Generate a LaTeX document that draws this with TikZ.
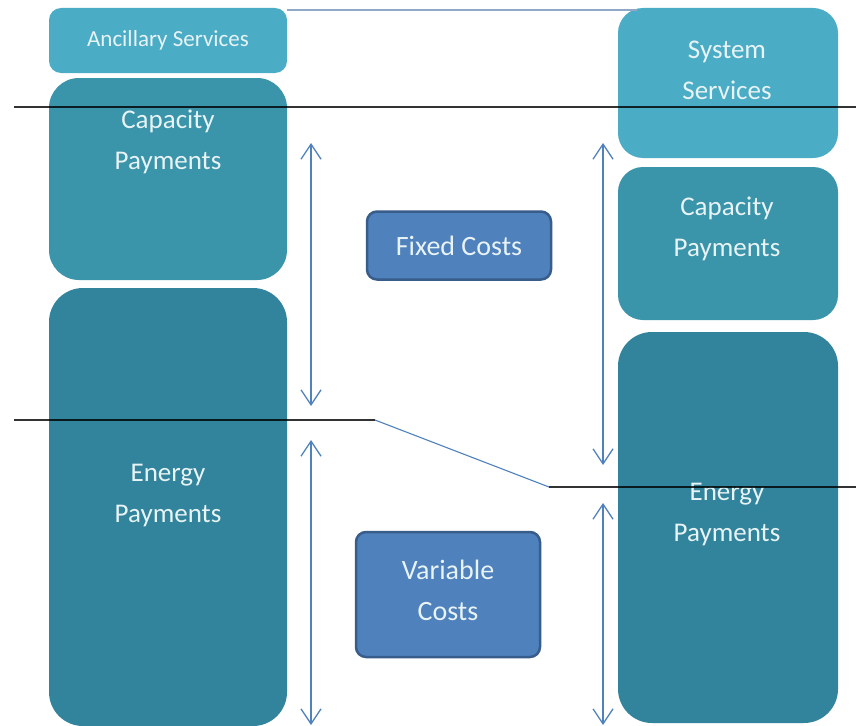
\documentclass[tikz,border=0pt]{standalone}
\usepackage{fontspec}
\setmainfont{Carlito}
\usetikzlibrary{arrows.meta}
\definecolor{light}{HTML}{4BACC6}
\definecolor{mid}{HTML}{3A94AA}
\definecolor{dark}{HTML}{31849B}
\definecolor{costfill}{HTML}{4F81BD}
\definecolor{costedge}{HTML}{385D8A}
\definecolor{arrowblue}{HTML}{4F81BD}
\definecolor{topline}{HTML}{8FA8C6}
\definecolor{txt}{HTML}{E8F3F5}
\tikzset{
  lbl/.style={text=txt, align=center, font=\fontsize{27}{41}\selectfont, inner sep=0pt},
  smalllbl/.style={text=txt, align=center, font=\fontsize{23}{28}\selectfont, inner sep=0pt},
  costbox/.style={fill=costfill, draw=costedge, line width=2.5pt, rounded corners=10pt, text=txt, align=center, font=\fontsize{28}{41}\selectfont},
  costlbl/.style={text=txt, align=center, font=\fontsize{28}{41}\selectfont, inner sep=0pt},
  sizearrow/.style={draw=arrowblue, line width=1.3pt, {Straight Barb[length=15pt,width=20pt,line width=1.3pt]}-{Straight Barb[length=15pt,width=20pt,line width=1.3pt]}},
  divider/.style={draw=black, opacity=0.8, line width=2.2pt},
}
\begin{document}
\begin{tikzpicture}[x=1pt,y=-1pt]
\useasboundingbox (0,0) rectangle (856,725);
\fill[white] (0,0) rectangle (856,725);

% left column
\fill[light, rounded corners=12pt] (49,8) rectangle (287,73);
\node[smalllbl] (anc) at (168,40) {Ancillary Services};
\fill[mid, rounded corners=30pt] (49,78) rectangle (287,280);
\node[lbl] (capL) at (168,142) {Capacity\\Payments};
\fill[dark, rounded corners=34pt] (49,288) rectangle (287,726);
\node[lbl] (enL) at (168,496) {Energy\\Payments};

% right column
\fill[light, rounded corners=25pt] (618,8) rectangle (838,158);
\node[lbl] (sys) at (727,70) {System\\Services};
\fill[mid, rounded corners=25pt] (618,167) rectangle (838,320);
\node[lbl] (capR) at (727,229) {Capacity\\Payments};
\fill[dark, rounded corners=34pt] (618,332) rectangle (838,723);
\node[lbl] (enR) at (727,515) {Energy\\Payments};

% cost boxes
\node[costbox, minimum width=184pt, minimum height=68pt] (fixed) at (459,245.5) {Fixed Costs};
\node[costbox, minimum width=184pt, minimum height=125pt] (var) at (448,594.5) {};
\node[costlbl] (varT) at (448,590.5) {Variable\\Costs};

% top thin line
\coordinate (t1) at (287,10);
\coordinate (t2) at (637,10);
\draw[topline, line width=1.2pt] (t1) -- (t2);

% dividers
\coordinate (d1a) at (14,107);
\coordinate (d1b) at (856,107);
\draw[divider] (d1a) -- (d1b);
\coordinate (d2a) at (14,420);
\coordinate (d2b) at (375,420);
\coordinate (d2c) at (549,487);
\coordinate (d2d) at (856,487);
\draw[divider] (d2a) -- (d2b);
\draw[arrowblue, line width=1.1pt] (d2b) -- (d2c);
\draw[divider] (d2c) -- (d2d);

% size arrows
\coordinate (a1t) at (311,143);
\coordinate (a1b) at (311,406);
\coordinate (a2t) at (311,440);
\coordinate (a2b) at (311,725);
\coordinate (a3t) at (603,143);
\coordinate (a3b) at (603,465);
\coordinate (a4t) at (603,503);
\coordinate (a4b) at (603,725);
\draw[sizearrow] (a1t) -- (a1b);
\draw[sizearrow] (a2t) -- (a2b);
\draw[sizearrow] (a3t) -- (a3b);
\draw[sizearrow] (a4t) -- (a4b);
\end{tikzpicture}
\end{document}
